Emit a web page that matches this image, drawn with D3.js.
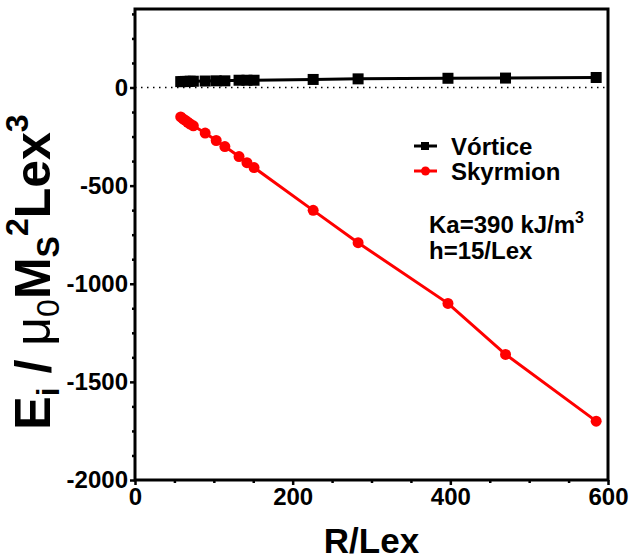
<!DOCTYPE html>
<html>
<head>
<meta charset="utf-8">
<script src="https://cdn.jsdelivr.net/npm/d3@7"></script>
<style>
  html, body { margin: 0; padding: 0; background: #fff; }
  svg { display: block; font-family: "Liberation Sans", Arial, sans-serif; }
</style>
</head>
<body>
<svg id="chart" width="630" height="559"></svg>
<script>
// ---- data ----
const rLex = [58, 61, 64, 67, 70, 74, 89, 103, 114, 132, 142, 151, 226, 283, 397, 470, 585];
const vortice = [30, 30, 31, 31, 32, 32, 33, 34, 34, 37, 37, 37, 41, 44, 47, 48, 51];
const skyrmion = [-150, -160, -168, -177, -186, -195, -232, -270, -301, -352, -383, -408, -626, -791, -1100, -1360, -1700];
const xTicks = [0, 200, 400, 600];
const yTicks = [-2000, -1500, -1000, -500, 0];
const seriesNames = ["Vórtice", "Skyrmion"];

const svg = d3.select("#chart");
const L = 135, R = 608, T = 9, B = 480;

const x = d3.scaleLinear().domain([0, 600]).range([L, R]);
const y = d3.scaleLinear().domain([-2000, 400]).range([B, T]);

const black = "#000", red = "#ff0000";
const FF = "'Liberation Sans', Arial, sans-serif";

// zero dotted line
svg.append("line")
  .attr("x1", x(0)).attr("x2", x(600))
  .attr("y1", y(0)).attr("y2", y(0))
  .attr("stroke", black).attr("stroke-width", 1.5)
  .attr("stroke-dasharray", "1.5,4.5");

// frame
svg.append("rect")
  .attr("x", L).attr("y", T).attr("width", R - L).attr("height", B - T)
  .attr("fill", "none").attr("stroke", black).attr("stroke-width", 3);

// axes
const fmt = d => String(d);
svg.append("g").attr("transform", `translate(${L},0)`)
  .call(d3.axisLeft(y).tickValues(yTicks).tickSize(5).tickPadding(2).tickFormat(fmt));
const yMinor = d3.range(-2000, 400, 125).filter(v => !yTicks.includes(v));
svg.append("g").attr("transform", `translate(${L},0)`)
  .call(d3.axisLeft(y).tickValues(yMinor).tickSize(3).tickFormat(""));
svg.append("g").attr("transform", `translate(0,${B})`)
  .call(d3.axisBottom(x).tickValues(xTicks).tickSize(5).tickPadding(3).tickFormat(fmt));
const xMinor = d3.range(50, 600, 50).filter(v => !xTicks.includes(v));
svg.append("g").attr("transform", `translate(0,${B})`)
  .call(d3.axisBottom(x).tickValues(xMinor).tickSize(3).tickFormat(""));

svg.selectAll(".domain").remove();
svg.selectAll(".tick line").attr("stroke", black).attr("stroke-width", 2.5);
svg.selectAll(".tick text").style("font", `bold 24px ${FF}`).attr("fill", black);

// lines
const line = (vals) => d3.line().x((d, i) => x(rLex[i])).y(d => y(d))(vals);
svg.append("path").attr("d", line(vortice)).attr("fill", "none")
  .attr("stroke", black).attr("stroke-width", 3);
svg.append("path").attr("d", line(skyrmion)).attr("fill", "none")
  .attr("stroke", red).attr("stroke-width", 3);

// markers
const sq = 11;
svg.append("g").selectAll("rect").data(vortice).join("rect")
  .attr("x", (d, i) => x(rLex[i]) - sq / 2).attr("y", d => y(d) - sq / 2)
  .attr("width", sq).attr("height", sq).attr("fill", black);
svg.append("g").selectAll("circle").data(skyrmion).join("circle")
  .attr("cx", (d, i) => x(rLex[i])).attr("cy", d => y(d)).attr("r", 5.5).attr("fill", red);

// legend
const lg = svg.append("g");
const legY = [146, 171];
const legColors = [black, red];
seriesNames.forEach((name, i) => {
  lg.append("line").attr("x1", 414).attr("x2", 437).attr("y1", legY[i]).attr("y2", legY[i])
    .attr("stroke", legColors[i]).attr("stroke-width", 3);
  if (i === 0) {
    lg.append("rect").attr("x", 421).attr("y", legY[i] - 4).attr("width", 8).attr("height", 8).attr("fill", black);
  } else {
    lg.append("circle").attr("cx", 425.5).attr("cy", legY[i]).attr("r", 4.5).attr("fill", red);
  }
  lg.append("text").attr("x", 451).attr("y", legY[i] + 8.5)
    .style("font", `bold 24px ${FF}`).attr("fill", black)
    .text(name);
});

// annotation
const ann = svg.append("text").attr("x", 429).attr("y", 233)
  .style("font", `bold 24px ${FF}`).attr("fill", black);
ann.append("tspan").text("Ka=390 kJ/m");
ann.append("tspan").attr("dy", -10).style("font-size", "16px").text("3");
svg.append("text").attr("x", 429).attr("y", 259)
  .style("font", `bold 24px ${FF}`).attr("fill", black)
  .text("h=15/Lex");

// x title
svg.append("text").attr("x", (L + R) / 2).attr("y", 553).attr("text-anchor", "middle")
  .style("font", `bold 35px ${FF}`).attr("fill", black)
  .text("R/Lex");

// y title
const yt = svg.append("text").attr("transform", "translate(50,272) rotate(-90)")
  .attr("text-anchor", "middle")
  .style("font", `bold 50px ${FF}`).attr("fill", black);
yt.append("tspan").text("E");
yt.append("tspan").attr("dy", 9).style("font-size", "32px").text("i");
yt.append("tspan").attr("dy", -9).text(" / ");
yt.append("tspan").style("font-weight", "normal").text("μ");
yt.append("tspan").attr("dy", 9).style("font-size", "32px").style("font-weight", "normal").text("0");
yt.append("tspan").attr("dy", -9).text("M");
yt.append("tspan").attr("dy", 9).style("font-size", "32px").text("S");
yt.append("tspan").attr("dy", -31).style("font-size", "32px").text("2");
yt.append("tspan").attr("dy", 22).text("Lex");
yt.append("tspan").attr("dy", -22).style("font-size", "32px").text("3");
</script>
</body>
</html>
